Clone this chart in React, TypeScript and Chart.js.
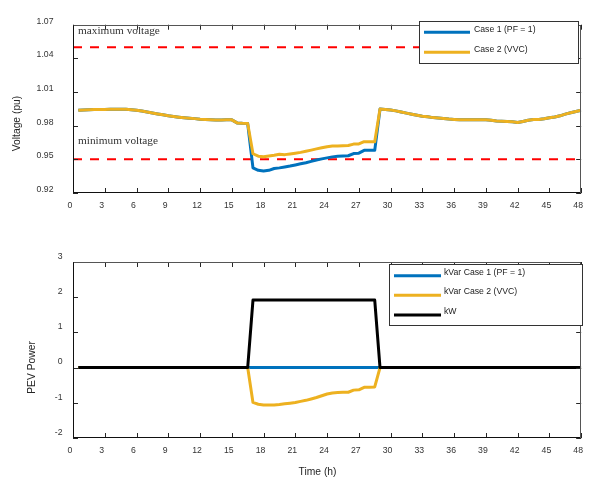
import React, { useEffect, useRef } from "react";
import { Chart, registerables } from "chart.js";
Chart.register(...registerables);

// ---------------- DATA ----------------
const hours = [
  0.5, 1, 1.5, 2, 2.5, 3, 3.5, 4, 4.5, 5, 5.5, 6, 6.5, 7, 7.5, 8, 8.5, 9, 9.5, 10, 10.5, 11, 11.5, 12,
  12.5, 13, 13.5, 14, 14.5, 15, 15.5, 16, 16.5, 17, 17.5, 18, 18.5, 19, 19.5, 20, 20.5, 21, 21.5, 22, 22.5, 23, 23.5, 24,
  24.5, 25, 25.5, 26, 26.5, 27, 27.5, 28, 28.5, 29, 29.5, 30, 30.5, 31, 31.5, 32, 32.5, 33, 33.5, 34, 34.5, 35, 35.5, 36,
  36.5, 37, 37.5, 38, 38.5, 39, 39.5, 40, 40.5, 41, 41.5, 42, 42.5, 43, 43.5, 44, 44.5, 45, 45.5, 46, 46.5, 47, 47.5, 48,
];

const voltageCase1 = [
  0.9937, 0.994, 0.9942, 0.9944, 0.9945, 0.9945, 0.9946, 0.9946, 0.9946, 0.9946, 0.9942, 0.9937,
  0.993, 0.9922, 0.9913, 0.9905, 0.9897, 0.9888, 0.9882, 0.9876, 0.9871, 0.9867, 0.9863, 0.9858,
  0.9855, 0.9853, 0.9851, 0.9851, 0.9852, 0.9852, 0.9825, 0.9821, 0.9819, 0.9424, 0.9402, 0.9396,
  0.9402, 0.9418, 0.9424, 0.9432, 0.944, 0.945, 0.946, 0.947, 0.9482, 0.9494, 0.9504, 0.9513,
  0.9522, 0.9527, 0.953, 0.9532, 0.9552, 0.9555, 0.958, 0.958, 0.958, 0.9948, 0.9944, 0.9939,
  0.9932, 0.9922, 0.9912, 0.9902, 0.9893, 0.9885, 0.9879, 0.9872, 0.9868, 0.9864, 0.9859, 0.9856,
  0.9854, 0.9853, 0.9853, 0.9853, 0.9854, 0.9853, 0.9848, 0.9842, 0.984, 0.9838, 0.9835, 0.9829,
  0.9838, 0.9848, 0.9855, 0.9855, 0.9862, 0.9871, 0.9878, 0.9888, 0.9903, 0.9915, 0.9926, 0.9938,
];

const voltageCase2 = [
  0.9937, 0.994, 0.9942, 0.9944, 0.9945, 0.9945, 0.9946, 0.9946, 0.9946, 0.9946, 0.9942, 0.9937,
  0.993, 0.9922, 0.9913, 0.9905, 0.9897, 0.9888, 0.9882, 0.9876, 0.9871, 0.9867, 0.9863, 0.9858,
  0.9855, 0.9853, 0.9851, 0.9851, 0.9852, 0.9852, 0.9825, 0.9821, 0.9819, 0.955, 0.9528, 0.9523,
  0.953, 0.9536, 0.9545, 0.9542, 0.9548, 0.9555, 0.9562, 0.9572, 0.9582, 0.9593, 0.9603, 0.9613,
  0.9618, 0.962, 0.9622, 0.9623, 0.9636, 0.9637, 0.9657, 0.9657, 0.9656, 0.9948, 0.9944, 0.9939,
  0.9932, 0.9922, 0.9912, 0.9902, 0.9893, 0.9885, 0.9879, 0.9872, 0.9868, 0.9864, 0.9859, 0.9856,
  0.9854, 0.9853, 0.9853, 0.9853, 0.9854, 0.9853, 0.9848, 0.9842, 0.984, 0.9838, 0.9835, 0.9829,
  0.9838, 0.9848, 0.9855, 0.9855, 0.9862, 0.9871, 0.9878, 0.9888, 0.9903, 0.9915, 0.9926, 0.9938,
];

const limitHours = [0, 48];
const maxVoltage = [1.05, 1.05];
const minVoltage = [0.95, 0.95];

const kvarCase1Hours = [0.5, 48];
const kvarCase1 = [0, 0];

const kvarCase2 = [
  0, 0, 0, 0, 0, 0, 0, 0, 0, 0, 0, 0, 0, 0, 0, 0, 0, 0, 0, 0, 0, 0, 0, 0, 0, 0, 0, 0, 0, 0, 0, 0, 0,
  -0.99, -1.04, -1.06, -1.06, -1.06, -1.05, -1.03, -1.01, -0.99, -0.96, -0.93, -0.89,
  -0.85, -0.8, -0.75, -0.72, -0.71, -0.7, -0.7, -0.64, -0.63, -0.56, -0.56, -0.55,
  0, 0, 0, 0, 0, 0, 0, 0, 0, 0, 0, 0, 0, 0, 0, 0, 0, 0, 0, 0, 0, 0, 0, 0, 0, 0, 0, 0, 0, 0, 0, 0, 0, 0, 0, 0, 0, 0, 0,
];

const kwHours = [0.5, 16.5, 17, 28.5, 29, 48];
const kw = [0, 0, 1.92, 1.92, 0, 0];

const timeTicks = [0, 3, 6, 9, 12, 15, 18, 21, 24, 27, 30, 33, 36, 39, 42, 45, 48];
const voltageTicks = [0.92, 0.95, 0.98, 1.01, 1.04, 1.07];
const powerTicks = [-2, -1, 0, 1, 2, 3];

// ---------------- STYLE ----------------
const SANS = '"Liberation Sans", Arial, Helvetica, sans-serif';
const SERIF = '"Liberation Serif", "Times New Roman", serif';
const BLUE = "#0072BD";
const YELLOW = "#EDB120";
const BLACK = "#000000";
const RED = "#FF0000";
const AXIS = "#262626";

const pts = (xs: number[], ys: number[]) => xs.map((x, i) => ({ x, y: ys[i] }));

const framePlugin = {
  id: "frame",
  afterDatasetsDraw(chart: any, _args: any, opts: any) {
    const { ctx, chartArea: a, scales } = chart;
    const xs = scales.x;
    const ys = scales.y;
    ctx.save();
    // inward ticks
    ctx.strokeStyle = AXIS;
    ctx.lineWidth = 1;
    const L = 5;
    ctx.beginPath();
    xs.ticks.forEach((t: any) => {
      const px = Math.round(xs.getPixelForValue(t.value)) + 0.5;
      ctx.moveTo(px, a.bottom);
      ctx.lineTo(px, a.bottom - L);
      ctx.moveTo(px, a.top);
      ctx.lineTo(px, a.top + L);
    });
    ys.ticks.forEach((t: any) => {
      const py = Math.round(ys.getPixelForValue(t.value)) + 0.5;
      ctx.moveTo(a.left, py);
      ctx.lineTo(a.left + L, py);
      ctx.moveTo(a.right, py);
      ctx.lineTo(a.right - L, py);
    });
    ctx.stroke();
    // box
    const l = Math.round(a.left) + 0.5;
    const r = Math.round(a.right) - 0.5;
    const t = Math.round(a.top) + 0.5;
    const b = Math.round(a.bottom) - 0.5;
    ctx.strokeStyle = "#555";
    ctx.beginPath();
    ctx.moveTo(l, t);
    ctx.lineTo(r, t);
    ctx.lineTo(r, b);
    ctx.stroke();
    ctx.strokeStyle = "#111";
    ctx.beginPath();
    ctx.moveTo(l, t);
    ctx.lineTo(l, b);
    ctx.lineTo(r, b);
    ctx.stroke();

    // annotation notes anchored to y values
    (opts.notes || []).forEach((n: any) => {
      ctx.font = `${n.size}px ${SERIF}`;
      ctx.fillStyle = "#333";
      ctx.textAlign = "left";
      ctx.textBaseline = "alphabetic";
      ctx.fillText(n.text, a.left + n.dx, ys.getPixelForValue(n.value) + n.dy);
    });

    // legend
    const lg = opts.legend;
    if (lg) {
      ctx.fillStyle = "#fff";
      ctx.fillRect(lg.x, lg.y, lg.w, lg.h);
      ctx.strokeStyle = "#333";
      ctx.lineWidth = 1;
      ctx.strokeRect(lg.x + 0.5, lg.y + 0.5, lg.w - 1, lg.h - 1);
      lg.items.forEach((idx: number, i: number) => {
        const ds = chart.data.datasets[idx];
        const ly = lg.rows[i];
        ctx.strokeStyle = ds.borderColor;
        ctx.lineWidth = 3;
        ctx.beginPath();
        ctx.moveTo(lg.x1, ly);
        ctx.lineTo(lg.x2, ly);
        ctx.stroke();
        ctx.fillStyle = "#222";
        ctx.font = `8.7px ${SANS}`;
        ctx.textAlign = "left";
        ctx.textBaseline = "middle";
        ctx.fillText(ds.label, lg.tx, ly + lg.tdy);
      });
    }
    ctx.restore();
  },
  afterDraw(chart: any, _args: any, opts: any) {
    const { ctx } = chart;
    ctx.save();
    (opts.titles || []).forEach((tt: any) => {
      ctx.font = `10.3px ${SANS}`;
      ctx.fillStyle = AXIS;
      ctx.textAlign = "center";
      ctx.textBaseline = "middle";
      ctx.translate(tt.x, tt.y);
      if (tt.rotate) ctx.rotate(-Math.PI / 2);
      ctx.fillText(tt.text, 0, 0);
      ctx.setTransform(1, 0, 0, 1, 0, 0);
    });
    ctx.restore();
  },
};

function makeOptions(cfg: any) {
  return {
    animation: false,
    responsive: false,
    devicePixelRatio: 1,
    layout: { padding: cfg.padding, autoPadding: false },
    elements: { point: { radius: 0 }, line: { tension: 0, borderJoinStyle: "round", borderCapStyle: "butt" } },
    plugins: {
      legend: { display: false },
      tooltip: { enabled: false },
      frame: cfg.frame,
    },
    scales: {
      x: {
        type: "linear",
        min: 0,
        max: 48,
        grid: { display: false, drawTicks: false },
        border: { display: false },
        afterBuildTicks: (s: any) => {
          s.ticks = timeTicks.map((v) => ({ value: v }));
        },
        afterFit: (s: any) => {
          s.height = cfg.xHeight;
        },
        ticks: {
          autoSkip: false,
          maxRotation: 0,
          padding: 7,
          labelOffset: -3,
          color: "#333",
          font: { family: SANS, size: 8.7 },
          callback: (v: any) => String(v),
        },
      },
      y: {
        type: "linear",
        min: cfg.yMin,
        max: cfg.yMax,
        grid: { display: false, drawTicks: false },
        border: { display: false },
        afterBuildTicks: (s: any) => {
          s.ticks = cfg.yTicks.map((v: number) => ({ value: v }));
        },
        afterFit: (s: any) => {
          s.width = 73;
        },
        ticks: {
          padding: cfg.yPad,
          labelOffset: cfg.yOff,
          color: "#333",
          font: { family: SANS, size: 8.7 },
          callback: cfg.yFmt,
        },
      },
    },
  };
}

export default function App() {
  const topRef = useRef<HTMLCanvasElement>(null);
  const botRef = useRef<HTMLCanvasElement>(null);

  useEffect(() => {
    const top = new Chart(topRef.current as HTMLCanvasElement, {
      type: "line",
      plugins: [framePlugin],
      data: {
        datasets: [
          { label: "Case 1 (PF = 1)", data: pts(hours, voltageCase1), borderColor: BLUE, borderWidth: 3, order: 2 },
          { label: "Case 2 (VVC)", data: pts(hours, voltageCase2), borderColor: YELLOW, borderWidth: 3, order: 1 },
          { label: "maximum voltage", data: pts(limitHours, maxVoltage), borderColor: RED, borderWidth: 2, borderDash: [9, 8], order: 3 },
          { label: "minimum voltage", data: pts(limitHours, minVoltage), borderColor: RED, borderWidth: 2, borderDash: [9, 8], order: 3 },
        ],
      } as any,
      options: makeOptions({
        padding: { left: 0, right: 6, top: 16, bottom: 0 },
        xHeight: 47,
        yMin: 0.92,
        yMax: 1.07,
        yTicks: voltageTicks,
        yPad: 19.5,
        yOff: -3.5,
        yFmt: (v: any) => Number(v).toFixed(2),
        frame: {
          notes: [
            { text: "maximum voltage", value: 1.05, dx: 5, dy: -13.5, size: 11.3 },
            { text: "minimum voltage", value: 0.95, dx: 5, dy: -15, size: 11.3 },
          ],
          legend: { x: 419, y: 21, w: 160, h: 43, x1: 424, x2: 470, tx: 474, tdy: -2.3, rows: [32.3, 52.3], items: [0, 1] },
          titles: [{ text: "Voltage (pu)", x: 17.2, y: 123.5, rotate: true }],
        },
      }) as any,
    });

    const bottom = new Chart(botRef.current as HTMLCanvasElement, {
      type: "line",
      plugins: [framePlugin],
      data: {
        datasets: [
          { label: "kVar Case 1 (PF = 1)", data: pts(kvarCase1Hours, kvarCase1), borderColor: BLUE, borderWidth: 3, order: 3 },
          { label: "kVar Case 2 (VVC)", data: pts(hours, kvarCase2), borderColor: YELLOW, borderWidth: 3, order: 2 },
          { label: "kW", data: pts(kwHours, kw), borderColor: BLACK, borderWidth: 3, order: 1 },
        ],
      } as any,
      options: makeOptions({
        padding: { left: 0, right: 6, top: 22, bottom: 0 },
        xHeight: 41,
        yMin: -2,
        yMax: 3,
        yTicks: powerTicks,
        yPad: 10.5,
        yOff: -5.5,
        yFmt: (v: any) => String(v),
        frame: {
          legend: { x: 389, y: 24, w: 194, h: 62, x1: 394, x2: 441, tx: 444, tdy: -3.5, rows: [35.7, 55.3, 75], items: [0, 1, 2] },
          titles: [
            { text: "PEV Power", x: 32, y: 127.5, rotate: true },
            { text: "Time (h)", x: 317.5, y: 231.7, rotate: false },
          ],
        },
      }) as any,
    });

    return () => {
      top.destroy();
      bottom.destroy();
    };
  }, []);

  return (
    <div style={{ position: "absolute", left: 0, top: 0, width: 593, height: 479, background: "#fff" }}>
      <canvas ref={topRef} width={593} height={240} style={{ position: "absolute", left: 0, top: 0, display: "block" }} />
      <canvas ref={botRef} width={593} height={239} style={{ position: "absolute", left: 0, top: 240, display: "block" }} />
    </div>
  );
}
